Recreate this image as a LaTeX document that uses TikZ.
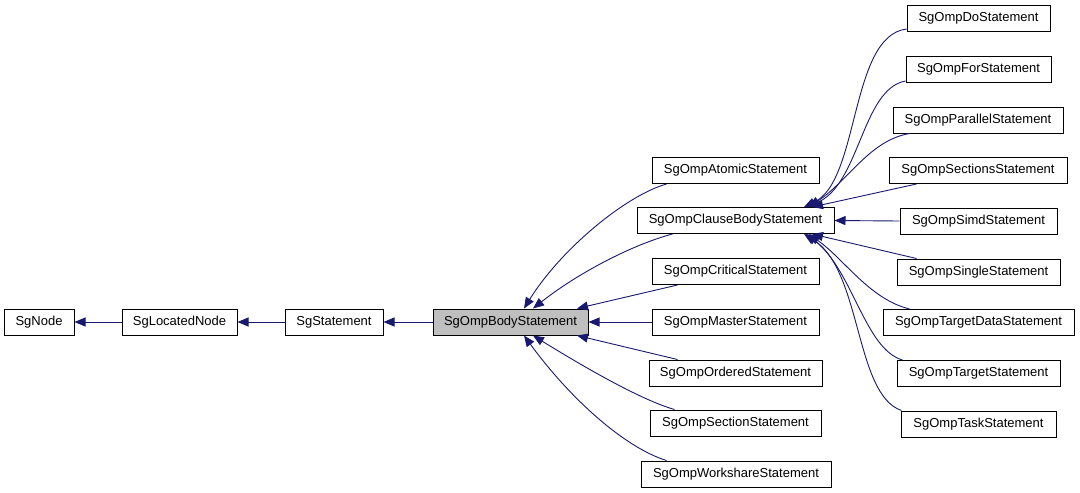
\documentclass[tikz,border=0pt]{standalone}
\usepackage{fontspec}
\setmainfont{Liberation Sans}
\usetikzlibrary{arrows.meta}
\definecolor{edgeblue}{HTML}{191970}
\definecolor{boxgray}{HTML}{BFBFBF}
\begin{document}
\begin{tikzpicture}[x=1pt,y=1pt,
  cls/.style={draw=black,line width=1pt,fill=white,minimum height=26pt,inner sep=0pt,font=\fontsize{13}{15}\selectfont},
  edge/.style={draw=edgeblue,line width=0.9pt,-{Triangle[length=11pt,width=9pt]}}]
\useasboundingbox[fill=white] (0,0) rectangle (1080,-493);
% left chain
\node[cls,minimum width=70pt] (node) at (39,-322) {SgNode};
\node[cls,minimum width=115pt] (located) at (179.5,-322) {SgLocatedNode};
\node[cls,minimum width=98pt] (stmt) at (334,-322) {SgStatement};
\node[cls,minimum width=155pt,fill=boxgray] (body) at (510.5,-322) {SgOmpBodyStatement};
% middle column
\node[cls,minimum width=167pt] (atomic) at (735.5,-170.5) {SgOmpAtomicStatement};
\node[cls,minimum width=197pt] (clause) at (735.5,-220.5) {SgOmpClauseBodyStatement};
\node[cls,minimum width=167pt] (critical) at (735.5,-271.5) {SgOmpCriticalStatement};
\node[cls,minimum width=167pt] (master) at (735.5,-322) {SgOmpMasterStatement};
\node[cls,minimum width=173pt] (ordered) at (735.5,-373) {SgOmpOrderedStatement};
\node[cls,minimum width=171pt] (section) at (735.5,-423) {SgOmpSectionStatement};
\node[cls,minimum width=190pt] (workshare) at (736,-474) {SgOmpWorkshareStatement};
% right column
\node[cls,minimum width=143pt] (do) at (978.5,-18.5) {SgOmpDoStatement};
\node[cls,minimum width=145pt] (for) at (978.5,-69.5) {SgOmpForStatement};
\node[cls,minimum width=170pt] (parallel) at (978,-120) {SgOmpParallelStatement};
\node[cls,minimum width=178pt] (sections) at (978,-170.5) {SgOmpSectionsStatement};
\node[cls,minimum width=157pt] (simd) at (978.5,-221) {SgOmpSimdStatement};
\node[cls,minimum width=163pt] (single) at (978.5,-272) {SgOmpSingleStatement};
\node[cls,minimum width=191pt] (targetdata) at (978.5,-322.5) {SgOmpTargetDataStatement};
\node[cls,minimum width=163pt] (target) at (978.5,-373.5) {SgOmpTargetStatement};
\node[cls,minimum width=155pt] (task) at (978.5,-424) {SgOmpTaskStatement};
% chain edges
\draw[edge] (located.west) -- (node.east);
\draw[edge] (stmt.west) -- (located.east);
\draw[edge] (body.west) -- (stmt.east);
% edges into body
\draw[edge] ([xshift=15pt]atomic.south west) .. controls +(-42,-12) and +(36,58) .. ([xshift=13.5pt]body.north);
\draw[edge] ([xshift=36pt]clause.south west) .. controls +(-38,-10) and +(47,37) .. ([xshift=22.5pt]body.north);
\draw[edge] ([xshift=26pt]critical.south west) -- ([xshift=66.5pt]body.north);
\draw[edge] (master.west) -- (body.east);
\draw[edge] ([xshift=29pt]ordered.north west) -- ([xshift=66.5pt]body.south);
\draw[edge] ([xshift=25pt]section.north west) .. controls +(-35,10) and +(47,-29) .. ([xshift=22.5pt]body.south);
\draw[edge] ([xshift=26pt]workshare.north west) .. controls +(-42,13) and +(46,-63) .. ([xshift=13.5pt]body.south);
% edges into clause body
\draw[edge] ([yshift=3pt]do.south west) .. controls +(-57,-7) and +(56,26) .. ([xshift=68.5pt]clause.north);
\draw[edge] ([yshift=2pt]for.south west) .. controls +(-44,-8) and +(54,21) .. ([xshift=70.5pt]clause.north);
\draw[edge] ([xshift=17pt]parallel.south west) .. controls +(-40,-7) and +(40,27) .. ([xshift=73.5pt]clause.north);
\draw[edge] ([xshift=28pt]sections.south west) -- ([xshift=76.5pt]clause.north);
\draw[edge] (simd.west) -- (clause.east);
\draw[edge] ([xshift=20pt]single.north west) -- ([xshift=76.5pt]clause.south);
\draw[edge] ([xshift=27pt]targetdata.north west) .. controls +(-40,10) and +(36,-26) .. ([xshift=73.5pt]clause.south);
\draw[edge] ([xshift=6pt]target.north west) .. controls +(-38,11) and +(47,-36) .. ([xshift=70.5pt]clause.south);
\draw[edge] ([xshift=1pt]task.north west) .. controls +(-47,16) and +(58,-36) .. ([xshift=68.5pt]clause.south);
\end{tikzpicture}
\end{document}
